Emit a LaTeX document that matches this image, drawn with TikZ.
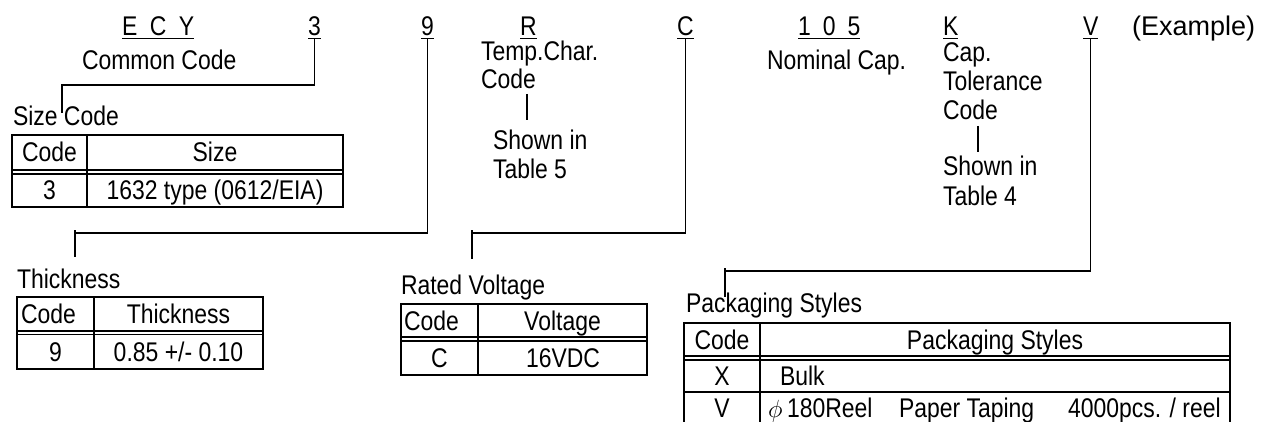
\documentclass[tikz,border=0pt]{standalone}
\usepackage{fontspec}
\setmainfont{Liberation Sans}[FakeStretch=0.85]
\newfontfamily\exfont{Liberation Sans}[FakeStretch=1.0]
\tikzset{
  txt/.style={inner sep=0pt, outer sep=0pt, font=\fontsize{27pt}{32pt}\selectfont},
  lt/.style={txt, anchor=base west},
  ct/.style={txt, anchor=base},
  conn/.style={line width=1.4pt},
  tb/.style={line width=1.9pt},
  dbl/.style={line width=1.3pt},
  uline/.style={line width=1.3pt},
}
\begin{document}
\begin{tikzpicture}[x=1pt,y=-1pt]
\useasboundingbox (0,0) rectangle (1263,422);
% top row
\node[lt] (ecy) at (122,36) {E\hspace{12.5pt}C\hspace{12.5pt}Y};
\node[lt] (n3) at (308,36) {3};
\node[lt] (n9) at (421,36) {9};
\node[lt] (nR) at (520,36) {R};
\node[lt] (nC) at (677,36) {C};
\node[lt] (n105) at (798,36) {1\hspace{12pt}0\hspace{12pt}5};
\node[lt] (nK) at (943,36) {K};
\node[lt] (nV) at (1083,36) {V};
\node[lt, font=\exfont\fontsize{27pt}{32pt}\selectfont] (ex) at (1132,36) {(Example)};
\foreach \n in {ecy,n3,n9,nR,nC,n105,nK,nV}
  \draw[uline] ([yshift=-2.5pt]\n.base west) -- ([yshift=-2.5pt]\n.base east);
% second level labels
\node[lt] (cc) at (82,70) {Common Code};
\node[lt] (szl) at (13,126) {Size Code};
\node[lt] (tc1) at (481,61) {Temp.Char.};
\node[lt] (tc2) at (481,89) {Code};
\node[lt] (tc3) at (493,150) {Shown in};
\node[lt] (tc4) at (493,179) {Table 5};
\node[lt] (nom) at (767,70) {Nominal Cap.};
\node[lt] (ct1) at (943,62) {Cap.};
\node[lt] (ct2) at (943,91) {Tolerance};
\node[lt] (ct3) at (943,120) {Code};
\node[lt] (ct4) at (943,176) {Shown in};
\node[lt] (ct5) at (943,205) {Table 4};
\coordinate (r1) at (527,94); \coordinate (r2) at (527,120);
\draw[conn] (r1) -- (r2);
\coordinate (k1) at (978,126); \coordinate (k2) at (978,152);
\draw[conn] (k1) -- (k2);
% connectors
\coordinate (e3) at (62,113);
\draw[conn] ([yshift=-2.5pt]n3.south) |- (62,85) -- (e3);
\coordinate (e9) at (75,257);
\draw[conn] ([yshift=-2.5pt]n9.south) |- (75,233);
\draw[conn] (75,230) -- (e9);
\coordinate (eC) at (472,259);
\draw[conn] ([yshift=-2.5pt]nC.south) |- (472,233);
\draw[conn] (472,230) -- (eC);
\coordinate (eV) at (725,297);
\draw[conn] ([yshift=-2.5pt]nV.south) |- (725,271);
\draw[conn] (725,268) -- (eV);
% size table
\draw[tb] (12,135) rectangle (343,207);
\draw[tb] (87,135) -- (87,207);
\draw[dbl] (12,170) -- (343,170) (12,174) -- (343,174);
\node[ct] (sh1) at (49.5,162) {Code};
\node[ct] (sh2) at (215,162) {Size};
\node[ct] (sd1) at (49.5,200) {3};
\node[ct] (sd2) at (215,200) {1632 type (0612/EIA)};
% thickness
\node[lt] (thl) at (17,288) {Thickness};
\draw[tb] (17,297) rectangle (263,369);
\draw[tb] (94,297) -- (94,369);
\draw[dbl] (17,331) -- (263,331) (17,334.5) -- (263,334.5);
\node[lt] (th1) at (21,323.5) {Code};
\node[ct] (th2) at (178.5,323.5) {Thickness};
\node[ct] (td1) at (55.5,361) {9};
\node[ct] (td2) at (178.5,361) {0.85 +/- 0.10};
% voltage
\node[lt] (rvl) at (401,294) {Rated Voltage};
\draw[tb] (401,304) rectangle (647,375);
\draw[tb] (478,304) -- (478,375);
\draw[dbl] (401,337) -- (647,337) (401,341) -- (647,341);
\node[lt] (vh1) at (404,330) {Code};
\node[ct] (vh2) at (562.5,330) {Voltage};
\node[ct] (vd1) at (439.5,367.5) {C};
\node[ct] (vd2) at (563,367.5) {16VDC};
% packaging
\node[lt] (pkl) at (686,312) {Packaging Styles};
\draw[tb] (684,424) -- (684,323) -- (1230,323) -- (1230,424);
\draw[tb] (760,323) -- (760,424);
\draw[dbl] (684,356) -- (1230,356) (684,360) -- (1230,360);
\draw[tb] (684,392) -- (1230,392);
\node[ct] (ph1) at (722,349) {Code};
\node[ct] (ph2) at (995,349) {Packaging Styles};
\node[ct] (px1) at (722,385.5) {X};
\node[lt] (px2) at (780,385.5) {Bulk};
\node[ct] (pv1) at (722,417.5) {V};
\node[lt] (pv2) at (768,417.5) {$\phi$};
\node[lt] (pv3) at (787,417.5) {180Reel};
\node[lt] (pv4) at (899,417.5) {Paper Taping};
\node[lt] (pv5) at (1068,417.5) {4000pcs. / reel};
\end{tikzpicture}
\end{document}
